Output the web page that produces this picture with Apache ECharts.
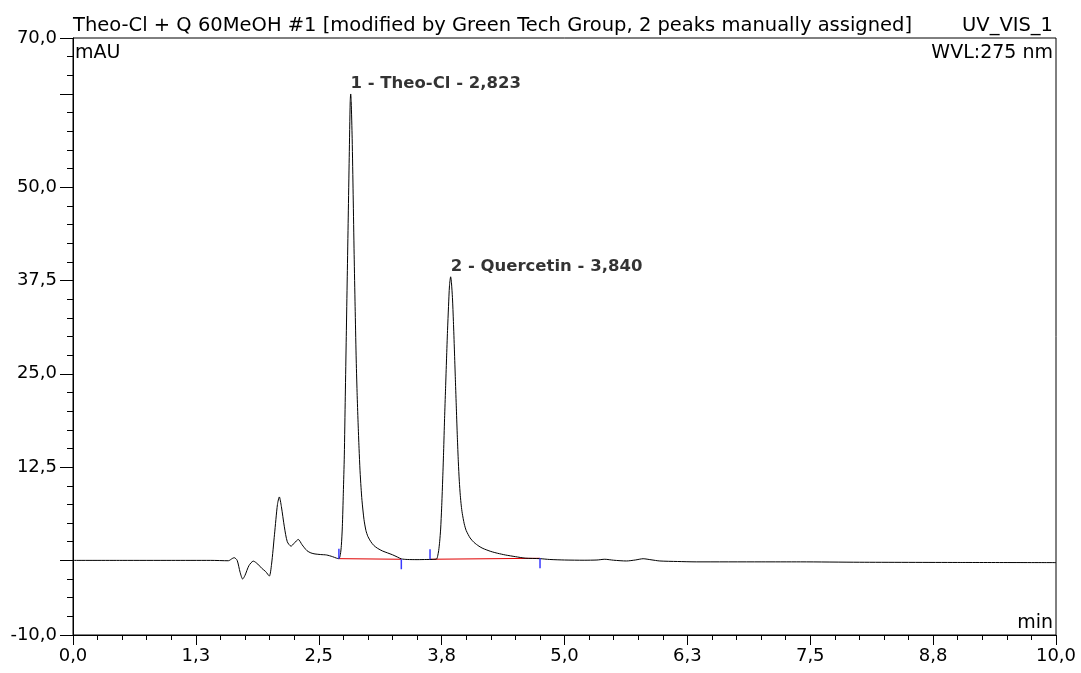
<!DOCTYPE html>
<html>
<head>
<meta charset="utf-8">
<script src="https://cdn.jsdelivr.net/npm/echarts@6/dist/echarts.min.js"></script>
<style>
html,body{margin:0;padding:0;background:#fff;}
#chart{width:1081px;height:673px;}
</style>
</head>
<body>
<div id="chart"></div>
<script>
// ---- data ----
const times = [0.00,0.50,1.00,1.40,1.58,1.62,1.64,1.67,1.70,1.726,1.75,1.79,1.834,1.88,1.92,1.96,1.997,2.02,2.05,2.08,2.099,2.12,2.15,2.18,2.218,2.25,2.292,2.33,2.38,2.42,2.462,2.52,2.58,2.64,2.68,2.705,
  2.72,2.73,2.74,2.75,2.76,2.77,2.78,2.79,2.80,2.81,2.82,2.825,2.83,2.84,2.85,2.86,2.87,2.88,2.89,2.90,2.91,2.92,2.93,2.94,2.96,2.98,3.00,3.03,3.06,3.10,3.15,3.20,3.25,3.30,3.34,3.40,3.50,3.60,3.66,3.70,
  3.71,3.72,3.73,3.74,3.75,3.76,3.77,3.78,3.79,3.80,3.81,3.82,3.83,3.842,3.85,3.86,3.87,3.88,3.89,3.90,3.91,3.92,3.93,3.94,3.95,3.96,3.98,4.00,4.04,4.08,4.13,4.17,4.25,4.32,4.40,4.50,4.60,4.75,
  4.85,5.00,5.20,5.33,5.41,5.50,5.63,5.72,5.80,5.88,5.97,6.15,6.34,7.00,7.40,8.00,9.00,10.00];
const signal = [0.00,0.00,0.00,0.00,-0.05,0.25,0.36,0.0,-1.6,-2.5,-2.0,-0.7,-0.1,-0.5,-1.06,-1.5,-2.1,-0.5,3.5,7.5,8.5,7.2,4.5,2.5,1.9,2.3,2.8,2.1,1.3,1.0,0.86,0.78,0.72,0.5,0.3,0.22,
  0.8,2.0,4.5,9,14,22,30,38,46,54,61.5,62.5,61.5,56.5,49,41,34,27.5,22.5,18.5,15,12,9.8,8,5.5,4.0,3.2,2.5,2.0,1.6,1.25,1.0,0.75,0.45,0.2,0.12,0.1,0.12,0.13,0.2,
  0.6,1.3,2.5,4.2,7,10.5,14.5,19,23,27,30.8,34,36.8,38.0,37.2,35.2,32,28.2,24.2,20.3,16.5,13.2,10.6,8.7,7.3,6.3,4.9,4.0,3.0,2.4,1.9,1.6,1.2,0.95,0.72,0.5,0.3,0.23,
  0.12,0.05,0.02,0.05,0.15,0.02,-0.08,0.05,0.22,0.08,-0.08,-0.15,-0.2,-0.2,-0.2,-0.25,-0.28,-0.3];

const peakNames = ['1 - Theo-Cl - 2,823', '2 - Quercetin - 3,840'];
const peakRT = [2.823, 3.842];
const peakHeight = [62.5, 38.0];
const peakStart = [2.705, 3.632];
const peakEnd = [3.34, 4.751];
const baseAtStart = [0.23, 0.15];
const baseAtEnd = [0.15, 0.28];

const xTickValues = [0, 1.25, 2.5, 3.75, 5, 6.25, 7.5, 8.75, 10];
const xTickLabels = ['0,0','1,3','2,5','3,8','5,0','6,3','7,5','8,8','10,0'];
const yMajorTicks = [-10, 0, 12.5, 25, 37.5, 50, 62.5, 70];
const yLabelValues = [-10, 12.5, 25, 37.5, 50, 70];
const yTickLabels = ['-10,0','12,5','25,0','37,5','50,0','70,0'];

const titleText = 'Theo-Cl + Q 60MeOH #1 [modified by Green Tech Group, 2 peaks manually assigned]';
const channelText = 'UV_VIS_1';
const yUnit = 'mAU';
const wvlText = 'WVL:275 nm';
const xUnit = 'min';

// ---- chart ----
const FONT = '"DejaVu Sans", "Liberation Sans", Arial, sans-serif';
const chart = echarts.init(document.getElementById('chart'), null, {renderer: 'canvas'});

function lookup(vals, labels, v) {
  for (let i = 0; i < vals.length; i++) if (Math.abs(vals[i] - v) < 1e-6) return labels[i];
  return '';
}

const mainData = times.map((t, i) => [t, signal[i]]);
const baselineSeries = peakStart.map((s, i) => ({
  type: 'line', xAxisIndex: 0, yAxisIndex: 0, silent: true, symbol: 'none',
  data: [[s, baseAtStart[i]], [peakEnd[i], baseAtEnd[i]]],
  lineStyle: {color: '#e00000', width: 1}, z: 3, animation: false
}));
const delimData = [];
peakStart.forEach((s, i) => {
  delimData.push([s, baseAtStart[i], 1]);
  delimData.push([peakEnd[i], baseAtEnd[i], -1]);
});

const option = {
  animation: false,
  backgroundColor: '#fff',
  grid: {left: 73, right: 25, top: 38, bottom: 38, show: true, borderColor: '#000', borderWidth: 1, containLabel: false},
  xAxis: [{
    type: 'value', min: 0, max: 10, interval: 1.25,
    axisLine: {show: true, onZero: false, lineStyle: {color: '#000', width: 1}},
    axisTick: {show: true, length: 10, lineStyle: {color: '#000'}},
    minorTick: {show: true, splitNumber: 5, length: 5, lineStyle: {color: '#000'}},
    splitLine: {show: false},
    axisLabel: {show: true, margin: 12, color: '#000', fontSize: 18, fontFamily: FONT,
      formatter: v => lookup(xTickValues, xTickLabels, v)}
  }],
  yAxis: [{
    type: 'value', min: -10, max: 70, interval: 2.5, position: 'left',
    axisLine: {show: true, onZero: false, lineStyle: {color: '#000', width: 1}},
    axisTick: {show: true, length: 6, lineStyle: {color: '#000'}},
    axisLabel: {show: false},
    splitLine: {show: false}
  }, {
    type: 'value', min: -10, max: 70, position: 'left', offset: 0,
    axisLine: {show: false, onZero: false},
    axisTick: {show: true, length: 13, customValues: yMajorTicks, lineStyle: {color: '#000'}},
    axisLabel: {show: true, customValues: yLabelValues, margin: 16, color: '#000', fontSize: 18, fontFamily: FONT,
      formatter: v => lookup(yLabelValues, yTickLabels, v)},
    splitLine: {show: false}
  }],
  graphic: [
    {type: 'text', left: 73, top: 16, style: {text: titleText, font: '19.5px ' + FONT, fill: '#000'}},
    {type: 'text', right: 28, top: 16, style: {text: channelText, font: '19.5px ' + FONT, fill: '#000'}},
    {type: 'text', left: 75, top: 44, style: {text: yUnit, font: '19px ' + FONT, fill: '#000'}},
    {type: 'text', right: 28, top: 44, style: {text: wvlText, font: '19px ' + FONT, fill: '#000'}},
    {type: 'text', right: 28, top: 614, style: {text: xUnit, font: '19px ' + FONT, fill: '#000'}}
  ],
  series: [{
    type: 'line', xAxisIndex: 0, yAxisIndex: 0, data: mainData,
    showSymbol: false, symbol: 'none', smooth: 0.25,
    lineStyle: {color: '#000', width: 1}, z: 4, silent: true
  },
  ...baselineSeries,
  {
    type: 'custom', xAxisIndex: 0, yAxisIndex: 0, data: delimData, silent: true, z: 5,
    renderItem: (params, api) => {
      const p = api.coord([api.value(0), api.value(1)]);
      const dir = api.value(2);
      return {type: 'line', shape: {x1: p[0], y1: p[1], x2: p[0], y2: p[1] - 10 * dir},
        style: {stroke: '#3a3aff', lineWidth: 1.5}};
    }
  },
  {
    type: 'scatter', xAxisIndex: 0, yAxisIndex: 0, silent: true, symbolSize: 0,
    data: peakRT.map((t, i) => ({value: [t, peakHeight[i]], name: peakNames[i]})),
    label: {show: true, position: 'top', align: 'left', distance: 2, formatter: p => p.name,
      fontFamily: FONT, fontSize: 16.5, fontWeight: 'bold', color: '#000'}
  }]
};
chart.setOption(option);
</script>
</body>
</html>
